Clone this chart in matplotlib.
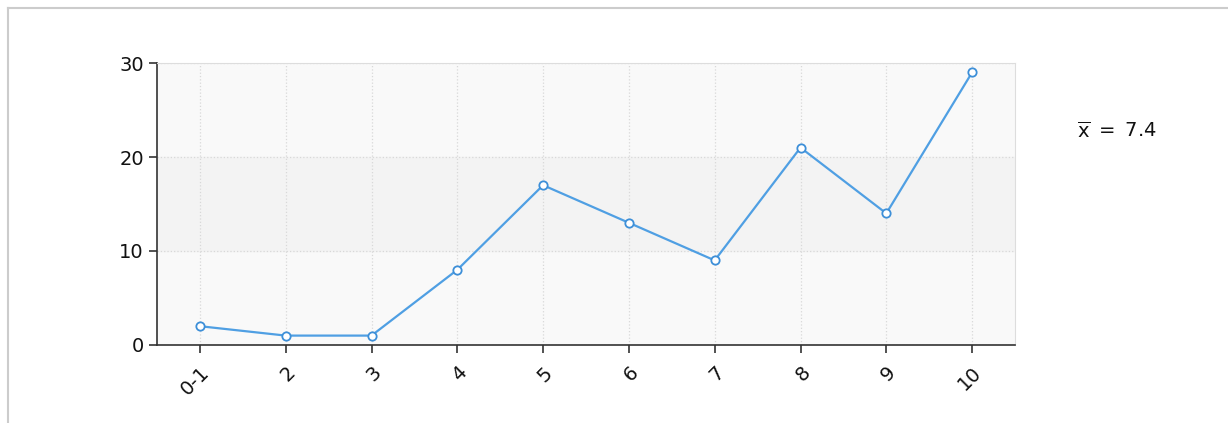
import numpy as np
import matplotlib.pyplot as plt
from matplotlib.lines import Line2D

categories = ["0-1", "2", "3", "4", "5", "6", "7", "8", "9", "10"]
values = [2, 1, 1, 8, 17, 13, 9, 21, 14, 29]
y_ticks = [0, 10, 20, 30]
mean_label = r"$\overline{\mathrm{x}}$ $=$ 7.4"

plt.rcParams['font.family'] = ['DejaVu Sans']
plt.rcParams['mathtext.fontset'] = 'dejavusans'

fig = plt.figure(figsize=(12.28, 4.23), dpi=100)
ax = fig.add_axes([157 / 1228, 1 - 345 / 423, (1015 - 157) / 1228, (345 - 63) / 423])

# outer frame (top and left edges only)
fig.add_artist(Line2D([8 / 1228, 1], [1 - 8 / 423, 1 - 8 / 423], color='#cccccc', lw=1.5))
fig.add_artist(Line2D([8 / 1228, 8 / 1228], [0, 1 - 8 / 423], color='#cccccc', lw=1.5))

x = np.arange(len(categories))
ax.set_facecolor('#f9f9f9')
ax.axhspan(10, 20, color='#f3f3f3', zorder=0)
ax.grid(True, linestyle=':', color='#d8d8d8', lw=0.9)
ax.set_axisbelow(True)

ax.plot(x, values, color='#4f9fe3', lw=1.6, marker='o', markersize=6,
        markerfacecolor='white', markeredgecolor='#3d8fd8', markeredgewidth=1.3, zorder=3)

ax.set_xlim(-0.5, len(categories) - 0.5)
ax.set_ylim(0, 30)
ax.set_yticks(y_ticks)
ax.set_xticks(x)
ax.set_xticklabels(categories, rotation=45, ha='right', rotation_mode='anchor')
ax.tick_params(axis='both', labelsize=14, length=6, width=1.2, color='#333333', labelcolor='#111111')
ax.tick_params(axis='x', pad=7)

for s in ['left', 'bottom']:
    ax.spines[s].set_color('#333333')
    ax.spines[s].set_linewidth(1.2)
for s in ['top', 'right']:
    ax.spines[s].set_color('#dddddd')

fig.text(1077 / 1228, 1 - 131 / 423, mean_label, fontsize=14, color='#111111', va='center', ha='left')

fig.savefig('out.png', dpi=100)
